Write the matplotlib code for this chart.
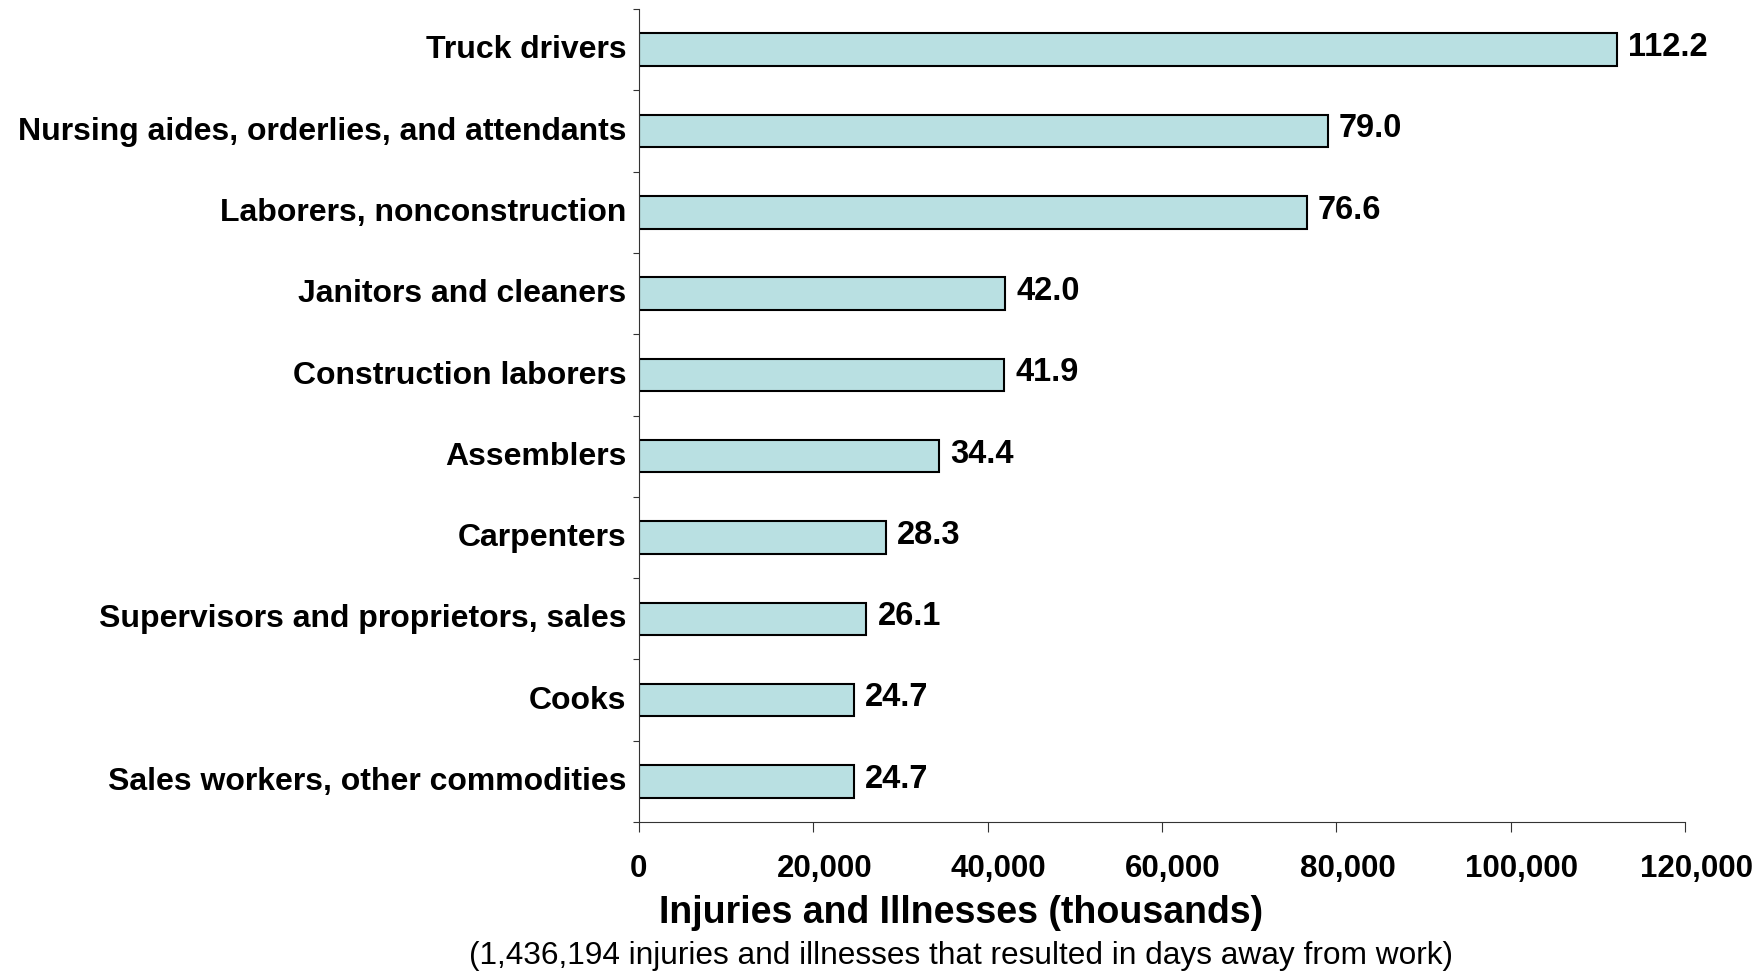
import matplotlib.pyplot as plt
from matplotlib.ticker import FuncFormatter, FixedLocator
from matplotlib.transforms import ScaledTranslation
import numpy as np

occupations = [
    "Truck drivers",
    "Nursing aides, orderlies, and attendants",
    "Laborers, nonconstruction",
    "Janitors and cleaners",
    "Construction laborers",
    "Assemblers",
    "Carpenters",
    "Supervisors and proprietors, sales",
    "Cooks",
    "Sales workers, other commodities",
]
cases_thousands = [112.2, 79.0, 76.6, 42.0, 41.9, 34.4, 28.3, 26.1, 24.7, 24.7]
xticks = [0, 20000, 40000, 60000, 80000, 100000, 120000]


def main():
    plt.rcParams['font.family'] = ['Liberation Sans', 'DejaVu Sans']
    fig = plt.figure(figsize=(17.65, 9.72), dpi=100)
    ax = fig.add_axes([0.362, 0.1543, 0.5927, 0.8364])

    y = np.arange(len(occupations))
    values = np.array(cases_thousands) * 1000
    ax.barh(y, values, height=0.4, color='#b9e0e2', edgecolor='black', linewidth=1.5)

    for yi, v in zip(y, cases_thousands):
        ax.annotate(f"{v:.1f}", (v * 1000, yi), xytext=(8, 1.5), textcoords='offset points',
                    ha='left', va='center', fontsize=23.5, fontweight='bold')

    ax.set_ylim(len(occupations) - 0.5, -0.5)
    ax.set_xlim(0, 120000)

    ax.set_yticks(y)
    ax.set_yticklabels(occupations, fontsize=23, fontweight='bold')
    ax.tick_params(axis='y', which='major', length=0, pad=9)
    ax.yaxis.set_minor_locator(FixedLocator(np.arange(len(occupations) + 1) - 0.5))
    ax.tick_params(axis='y', which='minor', length=4.5, width=0.8, color='#333333')
    up = ScaledTranslation(0, 2 / 72, fig.dpi_scale_trans)
    for lab in ax.get_yticklabels():
        lab.set_transform(lab.get_transform() + up)

    ax.set_xticks(xticks)
    ax.xaxis.set_major_formatter(FuncFormatter(lambda v, p: f"{int(v):,}"))
    ax.tick_params(axis='x', length=7, width=0.8, color='#333333', labelsize=22.5, pad=16)
    shift = ScaledTranslation(8 / 72, 0, fig.dpi_scale_trans)
    for lab in ax.get_xticklabels():
        lab.set_fontweight('bold')
    for lab in ax.get_xticklabels()[1:]:
        lab.set_transform(lab.get_transform() + shift)

    for s in ['top', 'right']:
        ax.spines[s].set_visible(False)
    for s in ['left', 'bottom']:
        ax.spines[s].set_color('#333333')
        ax.spines[s].set_linewidth(0.8)

    fig.text(961 / 1765, 1 - 913 / 972, "Injuries and Illnesses (thousands)",
             ha='center', va='center', fontsize=27, fontweight='bold')
    fig.text(961 / 1765, 1 - 956 / 972,
             "(1,436,194 injuries and illnesses that resulted in days away from work)",
             ha='center', va='center', fontsize=22.8)

    fig.savefig("out.png", dpi=100)


if __name__ == "__main__":
    main()
